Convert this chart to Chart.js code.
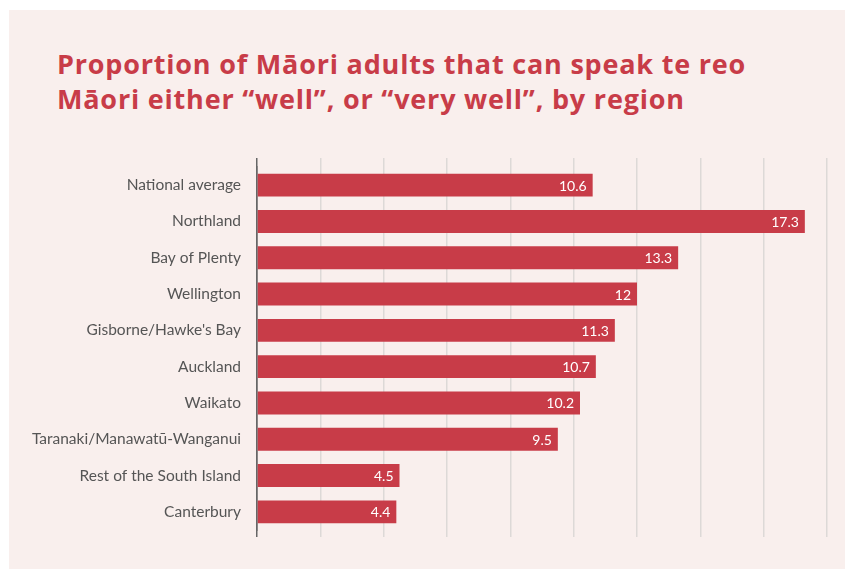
<!DOCTYPE html>
<html>
<head>
<meta charset="utf-8">
<script src="https://cdn.jsdelivr.net/npm/chart.js@4/dist/chart.umd.min.js"></script>
<style>
  html, body { margin: 0; padding: 0; background: #fff; }
  #panel { position: absolute; left: 9px; top: 10px; width: 836px; height: 559px; background: #f9efed; }
  #title { position: absolute; left: 57px; top: 46px; margin: 0; font-family: "Open Sans", sans-serif; font-weight: 700;
           font-size: 27px; line-height: 35px; letter-spacing: 0.8px; color: #c83c48; white-space: nowrap; }
  #wrap { position: absolute; left: 0; top: 0; width: 845px; height: 569px; }
</style>
</head>
<body>
<div id="panel"></div>
<h1 id="title">Proportion of Māori adults that can speak te reo<br>Māori either “well”, or “very well”, by region</h1>
<div id="wrap"><canvas id="chart"></canvas></div>
<script>
var regions = ['National average', 'Northland', 'Bay of Plenty', 'Wellington', "Gisborne/Hawke's Bay",
  'Auckland', 'Waikato', 'Taranaki/Manawatū-Wanganui', 'Rest of the South Island', 'Canterbury'];
var speakWell = [10.6, 17.3, 13.3, 12, 11.3, 10.7, 10.2, 9.5, 4.5, 4.4];
var axisMax = 18;
var axisStep = 2;

var barColor = '#c83c48';

// values written inside the end of each bar
var barValues = {
  id: 'barValues',
  afterDatasetsDraw: function (chart) {
    var ctx = chart.ctx;
    var meta = chart.getDatasetMeta(0);
    ctx.save();
    ctx.font = '14px Lato, sans-serif';
    ctx.fillStyle = '#ffffff';
    ctx.textAlign = 'right';
    ctx.textBaseline = 'middle';
    meta.data.forEach(function (bar, i) {
      ctx.fillText(String(speakWell[i]), bar.x - 6, bar.y + 1);
    });
    ctx.restore();
  }
};

var gridColor = function (c) { return c.tick && c.tick.value === 0 ? '#666' : '#ddd9d7'; };

new Chart(document.getElementById('chart'), {
  type: 'bar',
  data: {
    labels: regions,
    datasets: [{
      data: speakWell,
      backgroundColor: barColor,
      borderWidth: 0,
      barPercentage: 0.63,
      categoryPercentage: 1
    }]
  },
  plugins: [barValues],
  options: {
    indexAxis: 'y',
    responsive: true,
    maintainAspectRatio: false,
    animation: false,
    layout: { padding: { left: 0, right: 18, top: 158, bottom: 32 } },
    plugins: {
      legend: { display: false },
      tooltip: { enabled: false }
    },
    scales: {
      x: {
        position: 'bottom',
        min: 0, max: axisMax,
        ticks: { display: false, stepSize: axisStep },
        grid: { color: gridColor, lineWidth: 1.5, drawTicks: true, tickLength: 7 },
        border: { display: false }
      },
      x2: {
        position: 'top',
        min: 0, max: axisMax,
        ticks: { display: false, stepSize: axisStep },
        grid: { color: gridColor, lineWidth: 1.5, drawOnChartArea: false, drawTicks: true, tickLength: 9 },
        border: { display: false }
      },
      y: {
        grid: { display: false, drawTicks: false },
        border: { display: true, color: '#666', width: 1.5 },
        ticks: { color: '#555', padding: 16, font: { family: 'Lato, sans-serif', size: 15.5 } },
        afterFit: function (scale) { scale.width = 257; }
      }
    }
  }
});
</script>
</body>
</html>
